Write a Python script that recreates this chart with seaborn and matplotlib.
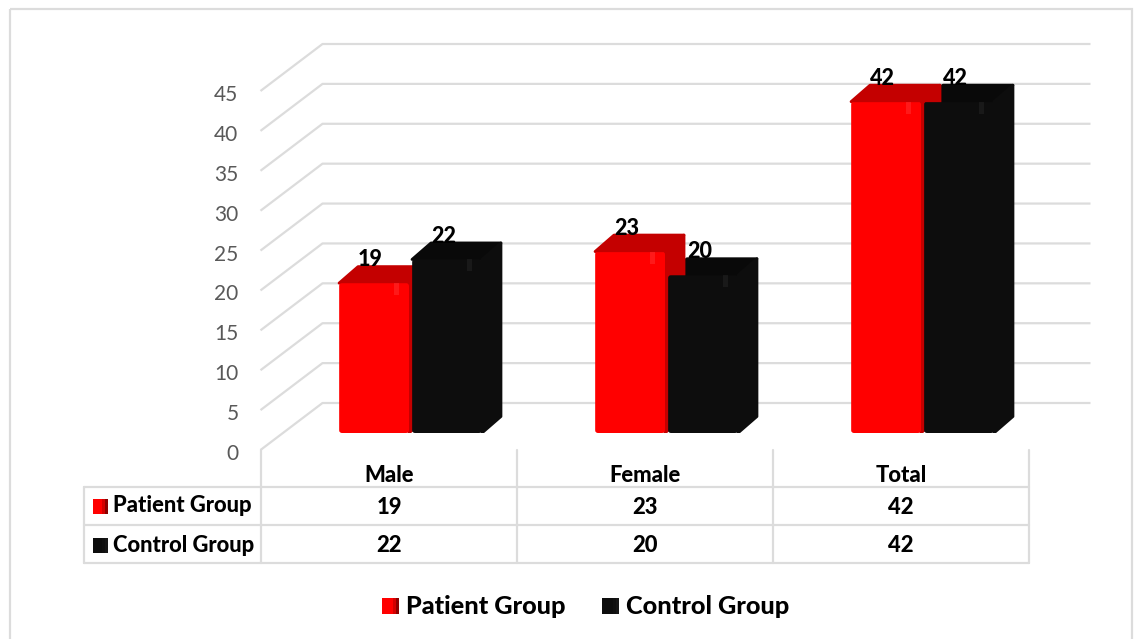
import matplotlib
matplotlib.use("Agg")
import matplotlib.pyplot as plt
import numpy as np
import pandas as pd
import seaborn as sns
from matplotlib.lines import Line2D
from matplotlib.patches import FancyBboxPatch, Polygon, Rectangle
from matplotlib.transforms import Affine2D, IdentityTransform

categories = ["Male", "Female", "Total"]
patient_values = [19, 23, 42]
control_values = [22, 20, 42]
group_names = ["Patient Group", "Control Group"]
axis_ticks = [0, 5, 10, 15, 20, 25, 30, 35, 40, 45]

RED, RED_DARK = "#ff0000", "#c40000"
BLACK, BLACK_DARK = "#0d0d0d", "#090909"
GRID = "#dcdcdc"
TICK_TEXT = "#595959"

W, H = 1141, 639
sns.set_theme(style="white")
plt.rcParams["font.family"] = ["Lato", "DejaVu Sans"]

fig = plt.figure(figsize=(W / 100, H / 100), dpi=100, facecolor="white")

# Full-figure layer in pixel units for the frame, table and legend
page = fig.add_axes([0, 0, 1, 1], zorder=0)
page.set_xlim(0, W)
page.set_ylim(H, 0)
page.axis("off")

left, right, floor = 282.5, 1050.5, 433


def plane_axes(top, zorder):
    """Axes for one oblique plane, spanning the plot width above the floor line."""
    new_ax = fig.add_axes([left / W, 1 - floor / H, (right - left) / W, (floor - top) / H],
                          zorder=zorder)
    new_ax.patch.set_alpha(0)
    new_ax.set_xlim(-0.5, 2.5)
    new_ax.set_ylim(0, 45)
    sns.despine(ax=new_ax, left=True, bottom=True)
    return new_ax


# The walls are slightly taller than the plane the bars stand in
wall = plane_axes(74, 1)
ax = plane_axes(78, 2)

df = pd.DataFrame({
    "category": categories * 2,
    "group": [group_names[0]] * 3 + [group_names[1]] * 3,
    "value": patient_values + control_values,
})
sns.barplot(data=df, x="category", y="value", hue="group", order=categories,
            hue_order=group_names, palette=[RED, BLACK], width=0.570, gap=0.041,
            saturation=1, legend=False, ax=ax, zorder=5)
ax.set_xlim(-0.5, 2.5)
ax.set_ylim(0, 45)
ax.set_xlabel("")
ax.set_ylabel("")
ax.set_xticks([])
ax.set_yticks([])

# Side wall and back wall gridlines run from the front floor edge to the back
for v in axis_ticks:
    front = (wall.transData + Affine2D().translate(-22, -17)).transform((-0.5, v))
    back_shift = wall.transData + Affine2D().translate(40, 30)
    back, end = back_shift.transform([(-0.5, v), (2.5, v)])
    pts = np.array([front, back, end])
    page.plot(pts[:, 0], H - pts[:, 1], color=GRID, lw=1.6, zorder=1,
              solid_joinstyle="round", solid_capstyle="butt")

# Value-axis labels sit left of the front floor edge
wall.set_xticks([])
wall.set_yticks(axis_ticks)
wall.tick_params(axis="y", length=0, pad=0, labelsize=15, labelcolor=TICK_TEXT)
for label in wall.get_yticklabels():
    label.set_transform(label.get_transform() + Affine2D().translate(-44, -19))

# Oblique top and side faces; round corners and a small bevel glint on every bar
DX, DY = 19, 16.5
to_disp = ax.transData.transform
inv = ax.transData.inverted().transform


def shift(p):
    return tuple(inv(to_disp(p) + np.array([DX, DY])))


for container, colour, dark, side, glint in zip(ax.containers, [RED, BLACK],
                                                [RED_DARK, BLACK_DARK], [RED_DARK, BLACK],
                                                ["#ff4a4a", "#303030"]):
    for bar in container:
        x0, x1, v = bar.get_x(), bar.get_x() + bar.get_width(), bar.get_height()
        tl, tr, br = (x0, v), (x1, v), (x1, 0)
        z = bar.get_zorder()
        for face, fc, order in (
            ([tl, tr, shift(tr), shift(tl)], dark, z - 0.2),
            ([tr, br, shift(br), shift(tr)], side, z - 0.1),
        ):
            ax.add_patch(Polygon(face, closed=True, facecolor=fc, edgecolor=fc, lw=2,
                                 joinstyle="round", zorder=order))
        bar.set_edgecolor(colour)
        bar.set_linewidth(0.5)
        (px0, py0), (px1, py1) = to_disp((x0, 0)), to_disp((x1, v))
        clip = FancyBboxPatch((px0 + 3, py0 + 3), px1 - px0 - 6, py1 - py0 - 6,
                              boxstyle="round,pad=3,rounding_size=3",
                              transform=IdentityTransform())
        bar.set_clip_path(clip)
        ax.add_patch(Rectangle((px1 - 15, py1 - 12), 5, 12, facecolor=glint, edgecolor="none",
                               alpha=0.35, transform=IdentityTransform(), zorder=z + 0.1))

# Value labels above each bar
for container, values in zip(ax.containers, [patient_values, control_values]):
    for bar, v in zip(container, values):
        ax.annotate(str(v), (bar.get_x() + bar.get_width() / 2, v),
                    xytext=(-2.5, 16.8), textcoords="offset points", ha="center", va="center",
                    fontsize=15.5, fontweight=900, color="black", zorder=8,
                    annotation_clip=False)

# Outer frame
page.add_patch(Rectangle((9.5, 9), 1122, 640, fill=False, edgecolor=GRID, lw=1.6, zorder=1))

# Data table beneath the plot
col_edges = [261, 517, 773, 1029]
rows_y = [450, 487, 525, 563]
table_left = 84
for y in rows_y[1:]:
    page.add_line(Line2D([table_left, col_edges[-1]], [y, y], color=GRID, lw=1.6, zorder=1))
for x in col_edges:
    page.add_line(Line2D([x, x], [rows_y[0], rows_y[-1]], color=GRID, lw=1.6, zorder=1))
page.add_line(Line2D([table_left, table_left], [rows_y[1], rows_y[3]], color=GRID, lw=1.6, zorder=1))

text_style = dict(ha="center", va="center", fontsize=15.8, fontweight=900, color="black", zorder=3)
for i, cat in enumerate(categories):
    cx = (col_edges[i] + col_edges[i + 1]) / 2
    page.text(cx, 475, cat, **text_style)
    page.text(cx, 507.5, str(patient_values[i]), **text_style)
    page.text(cx, 545, str(control_values[i]), **text_style)


def swatch(x, y, w, h, colour, mid, shade):
    """Small legend key that darkens toward its right edge."""
    page.add_patch(Rectangle((x, y), w, h, facecolor=colour, edgecolor="none", zorder=3))
    page.add_patch(Rectangle((x + w * 0.62, y), w * 0.38, h, facecolor=mid, edgecolor="none",
                             zorder=3.1))
    page.add_patch(Rectangle((x + w * 0.8, y), w * 0.2, h, facecolor=shade, edgecolor="none",
                             zorder=3.2))


swatches = [RED, BLACK]
mids = ["#d40000", "#101010"]
shades = ["#8c0000", "#161616"]
for name, colour, mid, shade, y in zip(group_names, swatches, mids, shades, [506, 545]):
    swatch(93, y - 7.5, 15, 15, colour, mid, shade)
    page.text(113, y, name, ha="left", va="center", fontsize=15.8, fontweight=900,
              color="black", zorder=3)

# Legend along the bottom
for name, colour, mid, shade, x in zip(group_names, swatches, mids, shades, [382, 602]):
    swatch(x, 598, 17, 16, colour, mid, shade)
    page.text(x + 23.5, 607, name, ha="left", va="center", fontsize=18.2, fontweight=900,
              color="black", zorder=3)

fig.savefig("out.png", dpi=100)
